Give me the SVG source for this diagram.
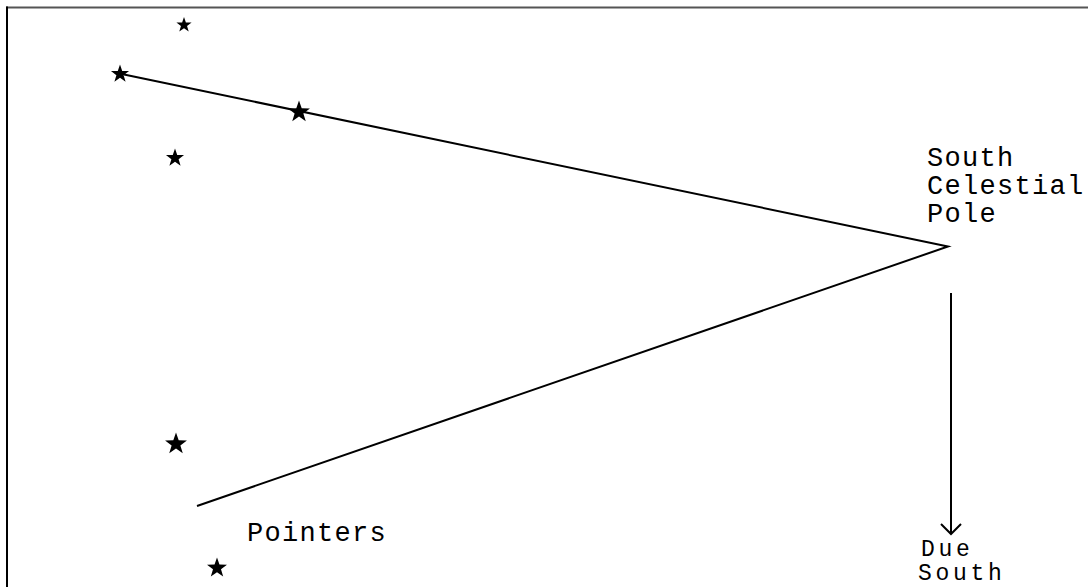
<svg xmlns="http://www.w3.org/2000/svg" width="1088" height="587" viewBox="0 0 1088 587">
<style>
.lbl{font-family:"Liberation Mono","DejaVu Sans Mono",monospace;font-size:27px;letter-spacing:1.3px;fill:#000}
.sm{font-size:23px;letter-spacing:3.7px}
.ln{stroke:#000;stroke-width:2;fill:none}
</style>
<defs>
<path id="star" d="M0,-10 L2.35,-3.24 L9.51,-3.09 L3.8,1.24 L5.88,8.09 L0,4 L-5.88,8.09 L-3.8,1.24 L-9.51,-3.09 L-2.35,-3.24 Z" fill="#000"/>
<marker id="chev" markerWidth="24" markerHeight="24" refX="12" refY="12" orient="auto" markerUnits="userSpaceOnUse">
<path d="M2,2 L12,12 L2,22" stroke="#000" stroke-width="2" fill="none"/>
</marker>
</defs>
<rect width="1088" height="587" fill="#fff"/>
<g id="border">
<line x1="6" y1="7.5" x2="1088" y2="7.5" stroke="#555" stroke-width="2"/>
<line x1="7" y1="6.5" x2="7" y2="587" stroke="#000" stroke-width="2"/>
</g>
<g id="connectors">
<polyline class="ln" points="124,74.5 948,246.5 197,506"/>
<line class="ln" x1="951" y1="293" x2="951" y2="534" marker-end="url(#chev)"/>
</g>
<g id="star1"><use href="#star" transform="translate(184,25) scale(0.8)"/></g>
<g id="star2"><use href="#star" transform="translate(120,74) scale(0.95)"/></g>
<g id="star3"><use href="#star" transform="translate(299,112) scale(1.15)"/></g>
<g id="star4"><use href="#star" transform="translate(175,158) scale(0.95)"/></g>
<g id="star5"><use href="#star" transform="translate(176,444) scale(1.15)"/></g>
<g id="star6"><use href="#star" transform="translate(217,568) scale(1.05)"/></g>
<g id="scp">
<text class="lbl" x="927" y="166">South</text>
<text class="lbl" x="927" y="194">Celestial</text>
<text class="lbl" x="927" y="222">Pole</text>
</g>
<g id="pointers"><text class="lbl" x="247" y="541">Pointers</text></g>
<g id="duesouth">
<text class="lbl sm" x="921" y="556">Due</text>
<text class="lbl sm" x="918" y="580">South</text>
</g>
</svg>
